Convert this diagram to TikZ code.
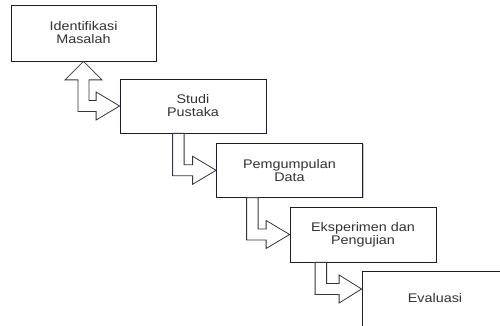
\documentclass[tikz,border=0pt]{standalone}
\usepackage{fontspec}
\setmainfont{Liberation Sans}[FakeStretch=1.15]
\usetikzlibrary{calc,shadows}
\definecolor{edge}{HTML}{1E1E28}
\definecolor{txt}{HTML}{333333}
\tikzset{
  stepbox/.style={draw=edge, line width=0.8pt, fill=white, minimum width=146pt, minimum height=55pt,
    inner sep=0pt, align=center, text=txt, font=\fontsize{12.5pt}{13pt}\selectfont,
    drop shadow={shadow xshift=1.2pt, shadow yshift=-1.2pt, fill=black!60!blue, opacity=0.22}},
  blockarrow/.style={draw=edge!90, line width=0.8pt, fill=white, line join=miter}
}
\newcommand\bentarr[5]{%
  \draw[blockarrow] let \p1=(#2), \p2=(#1.south) in
    ({\x1+(#3pt)},\y2) -- ({\x1+(#3pt)+11.5pt},\y2) -- ({\x1+(#3pt)+11.5pt},{\y1+5.5pt})
    -- ({\x1+(#4pt)},{\y1+5.5pt}) -- ({\x1+(#4pt)},{\y1+#5pt}) -- (\p1)
    -- ({\x1+(#4pt)},{\y1-#5pt}) -- ({\x1+(#4pt)},{\y1-5.5pt}) -- ({\x1+(#3pt)},{\y1-5.5pt}) -- cycle;}
\begin{document}
\begin{tikzpicture}[x=1pt,y=1pt]
\clip (0,0) rectangle (500,326);
\fill[white] (0,0) rectangle (500,326);
\node[stepbox, minimum width=145pt, minimum height=56pt] (b1) at (83.5,293) {Identifikasi\\Masalah};
\node[stepbox, minimum height=54pt] (b2) at (193,220) {Studi\\Pustaka};
\node[stepbox, minimum height=54pt] (b3) at (289.5,155.7) {Pemgumpulan\\Data};
\node[stepbox] (b4) at (363,91.5) {Eksperimen dan\\Pengujian};
\node[stepbox] (b5) at (435,27.5) {Evaluasi};
\coordinate (u1) at (b1.south);
\coordinate (t1) at (b2.west);
\coordinate (t2) at (b3.west);
\coordinate (t3) at (b4.west);
\coordinate (t4) at ($(b5.west)+(0,9.5)$);
% double bent arrow between b1 and b2
\draw[blockarrow] let \p1=(u1), \p2=(t1) in
  (\p1) -- ({\x1+18.5pt},{\y1-18.5pt}) -- ({\x1+5.5pt},{\y1-18.5pt}) -- ({\x1+5.5pt},{\y2+5.5pt})
  -- ({\x2-23.5pt},{\y2+5.5pt}) -- ({\x2-23.5pt},{\y2+14pt}) -- (\p2)
  -- ({\x2-23.5pt},{\y2-14pt}) -- ({\x2-23.5pt},{\y2-5.5pt}) -- ({\x1-5.5pt},{\y2-5.5pt})
  -- ({\x1-5.5pt},{\y1-18.5pt}) -- ({\x1-18.5pt},{\y1-18.5pt}) -- cycle;
\bentarr{b2}{t2}{-43.5}{-23.5}{14}
\bentarr{b3}{t3}{-43}{-23.5}{14}
\bentarr{b4}{t4}{-46.5}{-22.5}{14}
\end{tikzpicture}
\end{document}
